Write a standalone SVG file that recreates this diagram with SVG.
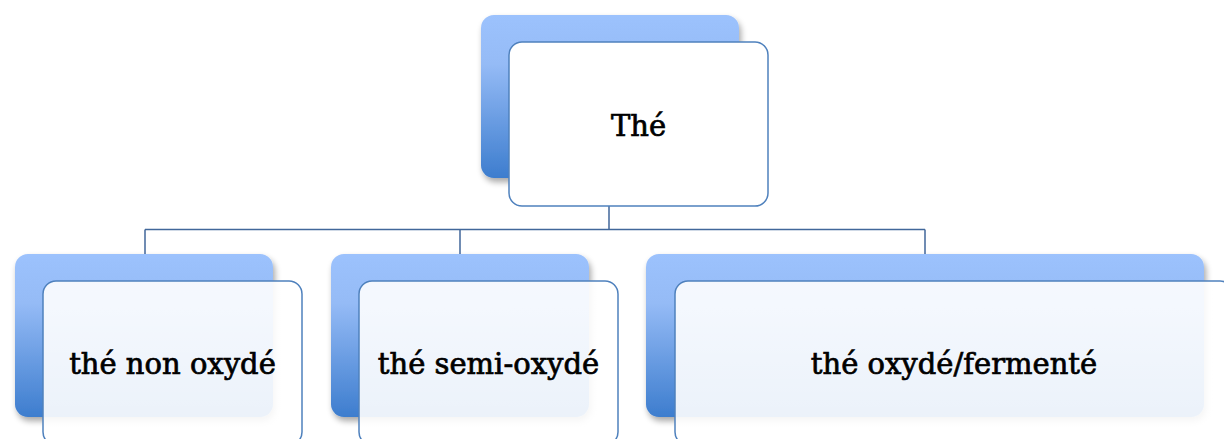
<svg xmlns="http://www.w3.org/2000/svg" width="1224" height="439" viewBox="0 0 1224 439">
<style>
.back{fill:url(#blueGrad);filter:url(#shadow)}
.front{fill:#ffffff;stroke:#4F81BD;stroke-width:1.5}
.frontT{fill:url(#paleGrad);stroke:#4F81BD;stroke-width:1.5}
.conn{fill:none;stroke:#41679A;stroke-width:1.5}
.label{font-family:"DejaVu Serif","Liberation Serif",serif;font-size:29px;fill:#000;stroke:#000;stroke-width:0.7;text-anchor:middle}
</style>
<defs>
<linearGradient id="blueGrad" x1="0" y1="0" x2="0" y2="1">
<stop offset="0" stop-color="#9CC2FD"/>
<stop offset="0.3" stop-color="#95BBF6"/>
<stop offset="1" stop-color="#3D7DCE"/>
</linearGradient>
<linearGradient id="paleGrad" x1="0" y1="0" x2="0" y2="1">
<stop offset="0" stop-color="#ffffff" stop-opacity="0.9"/>
<stop offset="1" stop-color="#ffffff" stop-opacity="0.9"/>
</linearGradient>
<filter id="shadow" x="-10%" y="-10%" width="125%" height="130%">
<feGaussianBlur in="SourceAlpha" stdDeviation="3"/>
<feOffset dx="2" dy="4" result="b"/>
<feComponentTransfer><feFuncA type="linear" slope="0.35"/></feComponentTransfer>
<feMerge><feMergeNode/><feMergeNode in="SourceGraphic"/></feMerge>
</filter>
</defs>
<g id="connectors">
<path class="conn" d="M609,206 V229.5 M145,229.5 H925 M145,229.5 V254 M460,229.5 V254 M925,229.5 V254"/>
</g>
<g id="node-the">
<rect class="back" x="481" y="15" width="258" height="163" rx="13"/>
<rect class="front" x="509" y="42" width="259" height="164" rx="13"/>
<text class="label" x="638.5" y="136">Thé</text>
</g>
<g id="node-non-oxyde">
<rect class="back" x="15" y="254" width="258" height="163" rx="13"/>
<rect class="frontT" x="43" y="281" width="259" height="164" rx="13"/>
<text class="label" x="172.5" y="374">thé non oxydé</text>
</g>
<g id="node-semi-oxyde">
<rect class="back" x="331" y="254" width="258" height="163" rx="13"/>
<rect class="frontT" x="359" y="281" width="259" height="164" rx="13"/>
<text class="label" x="488.5" y="374">thé semi-oxydé</text>
</g>
<g id="node-oxyde-fermente">
<rect class="back" x="646" y="254" width="558" height="163" rx="13"/>
<rect class="frontT" x="675" y="281" width="558" height="164" rx="13"/>
<text class="label" x="954" y="374">thé oxydé/fermenté</text>
</g>
</svg>
